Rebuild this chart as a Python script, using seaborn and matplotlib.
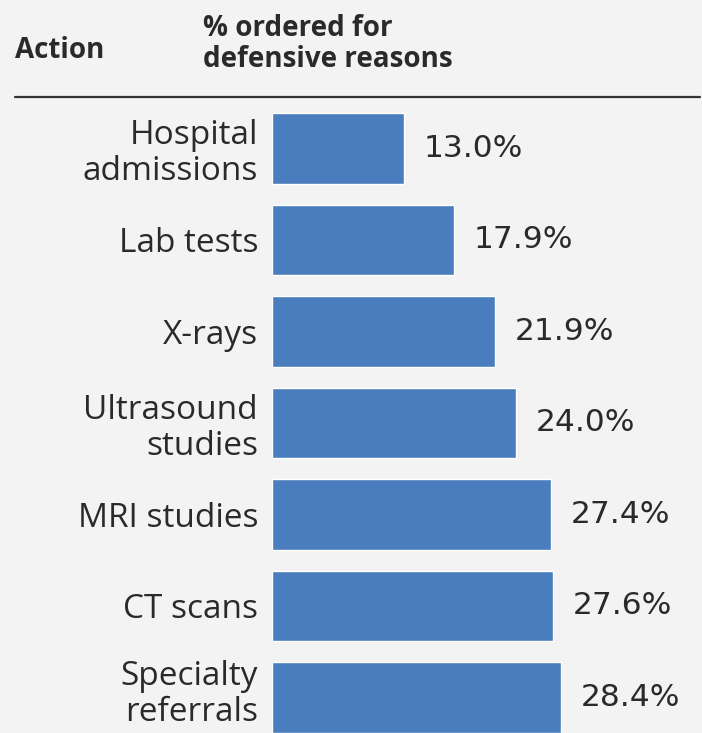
import matplotlib
matplotlib.use("Agg")
import matplotlib.pyplot as plt
import matplotlib.transforms as mtransforms
import seaborn as sns
import pandas as pd

actions = ["Hospital\nadmissions", "Lab tests", "X-rays", "Ultrasound\nstudies",
           "MRI studies", "CT scans", "Specialty\nreferrals"]
pct_defensive = [13.0, 17.9, 21.9, 24.0, 27.4, 27.6, 28.4]
value_labels = ["13.0%", "17.9%", "21.9%", "24.0%", "27.4%", "27.6%", "28.4%"]

sns.set_theme(style="white")
plt.rcParams["font.family"] = ["Open Sans", "DejaVu Sans"]

BG = "#f3f3f3"
BAR = "#4a7dbd"
TXT = "#2a2a2a"

df = pd.DataFrame({"action": actions, "pct": pct_defensive})

fig = plt.figure(figsize=(7.02, 7.33), dpi=100, facecolor=BG)
ax = fig.add_axes([272 / 702, 0.0, (700 - 272) / 702, 1 - 100 / 733])
ax.set_facecolor(BG)

sns.barplot(data=df, x="pct", y="action", orient="h", color=BAR,
            saturation=1, width=0.77, ax=ax)

ax.set_xlim(0, (700 - 272) / 10.18)
ax.set_ylim(6.39, -0.53)
ax.bar_label(ax.containers[0], labels=value_labels, padding=14,
             fontsize=22.5, color=TXT, family=["DejaVu Sans"])

ax.set_xlabel("")
ax.set_ylabel("")
ax.set_xticks([])
ax.tick_params(axis="y", length=0, pad=10)
for lbl in ax.get_yticklabels():
    lbl.set_fontsize(24)
    lbl.set_color(TXT)
    lbl.set_linespacing(1.12)
for s in ax.spines.values():
    s.set_visible(False)

# nudge the bottom label up slightly so it sits inside the figure
last = ax.yaxis.get_major_ticks()[-1].label1
last.set_transform(last.get_transform() +
                   mtransforms.ScaledTranslation(0, 6 / 72, fig.dpi_scale_trans))

# header
fig.text(15 / 702, 1 - 58 / 733, "Action", fontsize=20, fontweight="bold",
         color=TXT, ha="left", va="baseline")
fig.text(203 / 702, 1 - 67 / 733, "% ordered for\ndefensive reasons",
         fontsize=20, fontweight="bold", color=TXT, ha="left", va="baseline",
         linespacing=1.1)
fig.add_artist(plt.Line2D([15 / 702, 700 / 702], [1 - 97 / 733, 1 - 97 / 733],
                          color="#333333", linewidth=1.6))

fig.savefig("out.png", dpi=100, facecolor=BG)
